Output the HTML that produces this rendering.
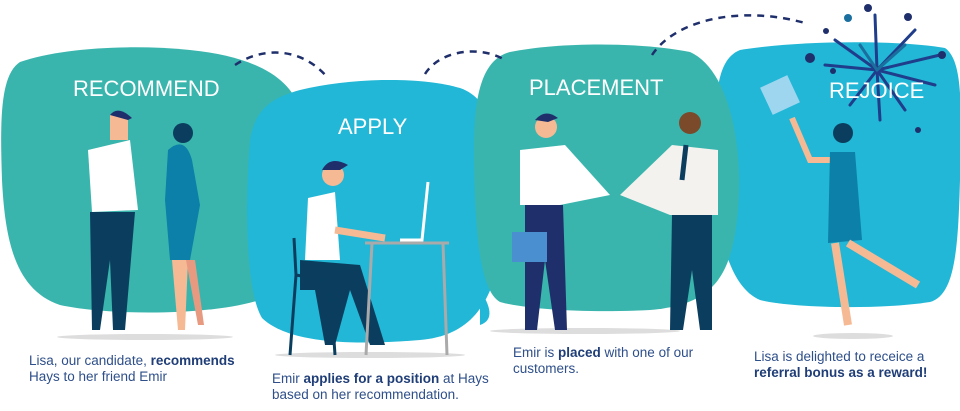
<!DOCTYPE html>
<html><head><meta charset="utf-8"><style>
body{margin:0;width:960px;height:411px;overflow:hidden;background:#fff;font-family:"Liberation Sans",sans-serif}
svg{position:absolute;left:0;top:0}
.cap{position:absolute;font-size:13.5px;line-height:16px;color:#2e4f8a}
.cap b{color:#1f3d77}
</style></head><body>
<svg width="960" height="411" viewBox="0 0 960 411">
<!-- blobs -->
<path d="M20,62 C60,48 130,44 190,50 C250,56 290,75 300,110 C310,170 300,250 280,290 C250,315 120,318 60,305 C15,290 5,240 2,180 C0,120 0,75 20,62Z" fill="#3ab5ad"/>
<path d="M300,90 C350,78 420,76 460,88 C495,100 505,150 503,220 C500,290 480,335 420,340 C360,345 290,345 262,318 C245,290 245,200 250,140 C255,110 270,98 300,90Z" fill="#22b7d6"/>
<path d="M740,50 C800,40 900,40 945,48 C962,60 962,100 960,180 C958,250 955,295 930,302 C880,310 790,308 760,300 C725,285 715,220 715,160 C715,100 715,60 740,50Z" fill="#22b7d6"/>
<path d="M510,52 C560,42 640,42 690,52 C730,70 745,150 737,220 C730,280 710,305 650,310 C590,313 530,310 500,302 C478,290 475,220 474,160 C473,100 480,60 510,52Z" fill="#3ab5ad"/>
<path d="M480,290 C490,305 495,320 480,325 L480,290Z" fill="#22b7d6"/>
<!-- dashed arcs -->
<g fill="none" stroke="#1f2f6b" stroke-width="2.5" stroke-dasharray="7,6">
<path d="M235,65 C260,48 300,45 328,78"/>
<path d="M425,74 C440,50 480,45 505,60"/>
<path d="M652,55 C675,20 740,5 805,23"/>
</g>
<!-- fireworks -->
<g stroke="#1f3d8a" stroke-width="3" stroke-linecap="round" fill="none">
<path d="M877,70 L875,15"/><path d="M877,70 L915,30"/><path d="M877,70 L835,40"/>
<path d="M877,70 L940,55"/><path d="M877,70 L825,65"/><path d="M877,70 L935,85"/>
<path d="M877,70 L850,105"/><path d="M877,70 L905,110"/><path d="M877,70 L880,120"/>
<path d="M877,70 L860,45" stroke="#1a6f9e"/><path d="M877,70 L905,45" stroke="#1a6f9e"/>
</g>
<g fill="#1f2f6b"><circle cx="868" cy="8" r="4"/><circle cx="908" cy="17" r="4"/><circle cx="810" cy="58" r="5"/><circle cx="942" cy="55" r="4"/><circle cx="848" cy="18" r="4" fill="#1a6f9e"/><circle cx="826" cy="31" r="3"/><circle cx="833" cy="71" r="3"/><circle cx="918" cy="130" r="3"/></g>
<!-- shadows -->
<g fill="#ddd"><ellipse cx="145" cy="337" rx="88" ry="3"/><ellipse cx="370" cy="355" rx="95" ry="3"/><ellipse cx="585" cy="331" rx="95" ry="3"/><ellipse cx="853" cy="336" rx="40" ry="3"/></g>
<!-- recommend people -->
<path d="M88,150 L130,140 L138,210 L92,212Z" fill="#fff"/>
<rect x="110" y="115" width="18" height="25" fill="#f5b994"/><path d="M110,115 Q118,105 132,118 L128,120Z" fill="#1f2f6b"/>
<path d="M90,212 L135,212 L125,330 L113,330 L110,260 L100,330 L92,330Z" fill="#0b3e5e"/>
<path d="M168,150 Q185,135 192,160 L200,205 L190,260 L170,260 L165,200Z" fill="#0c80a8"/>
<circle cx="183" cy="133" r="10" fill="#0b3e5e"/>
<path d="M172,260 L178,330 L185,330 L188,260Z" fill="#f5b994"/><path d="M186,260 L198,325 L204,325 L195,260Z" fill="#e89a80"/>
<!-- apply person -->
<circle cx="333" cy="175" r="11" fill="#f5b994"/><path d="M322,170 Q330,155 348,165 L340,170Z" fill="#1f2f6b"/>
<path d="M308,198 L335,192 L340,260 L305,260Z" fill="#fff"/>
<path d="M300,260 L360,265 L385,345 L370,345 L350,290 L335,345 L325,345 L315,290 L300,290Z" fill="#0b3e5e"/>
<path d="M335,230 L385,238" stroke="#f5b994" stroke-width="7"/>
<path d="M294,238 L296,275 L290,355 M296,275 L335,282 M330,282 L335,355" stroke="#0b3e5e" stroke-width="3" fill="none"/>
<path d="M365,243 L449,243 M372,243 L366,355 M443,243 L447,355" stroke="#aaa" stroke-width="3" fill="none"/>
<path d="M428,182 L422,240 L400,240" stroke="#fff" stroke-width="3" fill="none"/>
<!-- placement -->
<circle cx="546" cy="127" r="11" fill="#f5b994"/><path d="M535,120 Q545,108 558,118 L548,122Z" fill="#1f2f6b"/>
<path d="M520,150 L565,145 L610,195 L560,205 L520,205Z" fill="#fff"/>
<path d="M525,205 L563,205 L567,330 L555,330 L545,260 L537,330 L525,330Z" fill="#1f2f6b"/>
<rect x="512" y="232" width="35" height="30" fill="#4a90d0"/>
<circle cx="690" cy="123" r="11" fill="#7a4a2a"/>
<path d="M620,195 L672,145 L718,150 L718,215 L670,215Z" fill="#f4f2ee"/>
<path d="M686,145 L682,180" stroke="#0b3e5e" stroke-width="5"/>
<path d="M672,215 L712,215 L712,330 L700,330 L692,270 L683,330 L670,330Z" fill="#0b3e5e"/>
<!-- rejoice -->
<circle cx="843" cy="133" r="10" fill="#0b3e5e"/>
<path d="M792,118 L810,160 L835,160" stroke="#f5b994" stroke-width="6" fill="none"/>
<path d="M830,152 L855,152 L862,240 L828,243Z" fill="#0c80a8"/>
<path d="M835,243 L848,325 M848,243 L918,285" stroke="#f5b994" stroke-width="8" fill="none"/>
<rect x="765" y="80" width="30" height="30" fill="#9ed6f0" transform="rotate(-25 780 95)"/>
<!-- titles -->
<g fill="#fff" font-family="Liberation Sans,sans-serif" font-size="22">
<text x="73" y="96">RECOMMEND</text><text x="338" y="134">APPLY</text>
<text x="529" y="95">PLACEMENT</text><text x="829" y="98">REJOICE</text>
</g>
</svg>
<div class="cap" style="left:29px;top:353px">Lisa, our candidate, <b>recommends</b><br>Hays to her friend Emir</div>
<div class="cap" style="left:272px;top:371px">Emir <b>applies for a position</b> at Hays<br>based on her recommendation.</div>
<div class="cap" style="left:513px;top:345px">Emir is <b>placed</b> with one of our<br>customers.</div>
<div class="cap" style="left:754px;top:349px">Lisa is delighted to receice a<br><b>referral bonus as a reward!</b></div>
</body></html>
